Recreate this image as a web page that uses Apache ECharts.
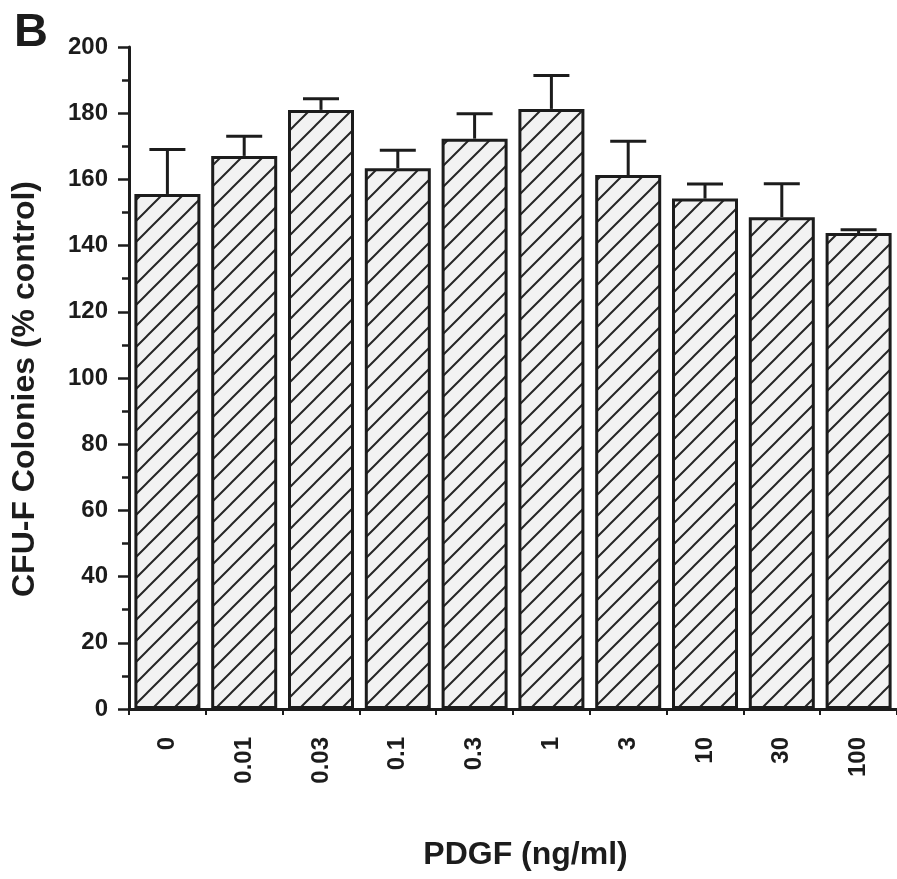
<!DOCTYPE html>
<html>
<head>
<meta charset="utf-8">
<script src="https://cdn.jsdelivr.net/npm/echarts@6/dist/echarts.min.js"></script>
<style>
  html, body { margin: 0; padding: 0; background: #fff; }
  #chart { width: 897px; height: 879px; }
</style>
</head>
<body>
<div id="chart"></div>
<script>
// PDGF dose (ng/ml) and CFU-F colony counts as % of control
const categories = ['0', '0.01', '0.03', '0.1', '0.3', '1', '3', '10', '30', '100'];
const colonyMeans = [155.6, 167.1, 181.0, 163.4, 172.3, 181.3, 161.3, 154.2, 148.6, 143.8];
const colonySem = [13.4, 5.9, 3.4, 5.4, 7.5, 10.1, 10.2, 4.4, 10.1, 1.0];
const yMin = 0;
const yMax = 200;
const yStep = 20;

const FONT = '"Liberation Sans", Arial, Helvetica, sans-serif';
const INK = '#1c1c1c';

// Diagonal "/" hatch tile for the bar fill
function hatchTile() {
  const s = 21;
  const c = document.createElement('canvas');
  c.width = s; c.height = s;
  const g = c.getContext('2d');
  g.fillStyle = '#f2f2f2';
  g.fillRect(0, 0, s, s);
  g.strokeStyle = '#262626';
  g.lineWidth = 2;
  g.beginPath();
  g.moveTo(-2, s + 2); g.lineTo(s + 2, -2);
  g.moveTo(-2, 2); g.lineTo(2, -2);
  g.moveTo(s - 2, s + 2); g.lineTo(s + 2, s - 2);
  g.stroke();
  return c;
}

const chart = echarts.init(document.getElementById('chart'), null, { renderer: 'canvas' });

chart.setOption({
  animation: false,
  backgroundColor: '#ffffff',
  title: {
    text: 'B',
    left: 9,
    top: 5,
    textStyle: { fontFamily: FONT, fontWeight: 'bold', fontSize: 47, color: INK }
  },
  grid: { left: 129, top: 47, width: 769, height: 662, containLabel: false },
  xAxis: {
    type: 'category',
    data: categories,
    name: 'PDGF (ng/ml)',
    nameLocation: 'middle',
    nameGap: 130,
    nameTextStyle: { fontFamily: FONT, fontWeight: 'bold', fontSize: 32, color: INK, padding: [0, 0, 0, 25] },
    axisLine: { lineStyle: { color: INK, width: 3 } },
    axisTick: { show: true, length: 6, lineStyle: { color: INK, width: 2 } },
    axisLabel: {
      rotate: 90,
      margin: 28,
      fontFamily: FONT,
      fontWeight: 'bold',
      fontSize: 24,
      color: INK
    },
    splitLine: { show: false }
  },
  yAxis: {
    type: 'value',
    min: yMin,
    max: yMax,
    interval: yStep,
    name: 'CFU-F Colonies (% control)',
    nameLocation: 'middle',
    nameGap: 88,
    nameTextStyle: { fontFamily: FONT, fontWeight: 'bold', fontSize: 32, color: INK, padding: [0, 22, 0, 0] },
    axisLine: { show: true, lineStyle: { color: INK, width: 3 } },
    axisTick: { show: true, length: 11, lineStyle: { color: INK, width: 2.5 } },
    minorTick: { show: true, splitNumber: 2, length: 7, lineStyle: { color: INK, width: 2.5 } },
    axisLabel: { margin: 21, fontFamily: FONT, fontWeight: 'bold', fontSize: 24, color: INK },
    splitLine: { show: false }
  },
  series: [
    {
      type: 'bar',
      data: colonyMeans,
      barWidth: 66,
      itemStyle: {
        color: { image: hatchTile(), repeat: 'repeat' },
        borderColor: INK,
        borderWidth: 3
      },
      z: 2
    },
    {
      type: 'custom',
      z: 5,
      data: colonyMeans.map((m, i) => [i, m, m + colonySem[i]]),
      renderItem: function (params, api) {
        const base = api.coord([api.value(0), api.value(1)]);
        const top = api.coord([api.value(0), api.value(2)]);
        const half = 18;
        const style = { stroke: INK, lineWidth: 3, fill: null };
        return {
          type: 'group',
          children: [
            { type: 'line', shape: { x1: base[0], y1: base[1], x2: top[0], y2: top[1] }, style: style },
            { type: 'line', shape: { x1: top[0] - half, y1: top[1], x2: top[0] + half, y2: top[1] }, style: style }
          ]
        };
      }
    }
  ]
});
</script>
</body>
</html>
